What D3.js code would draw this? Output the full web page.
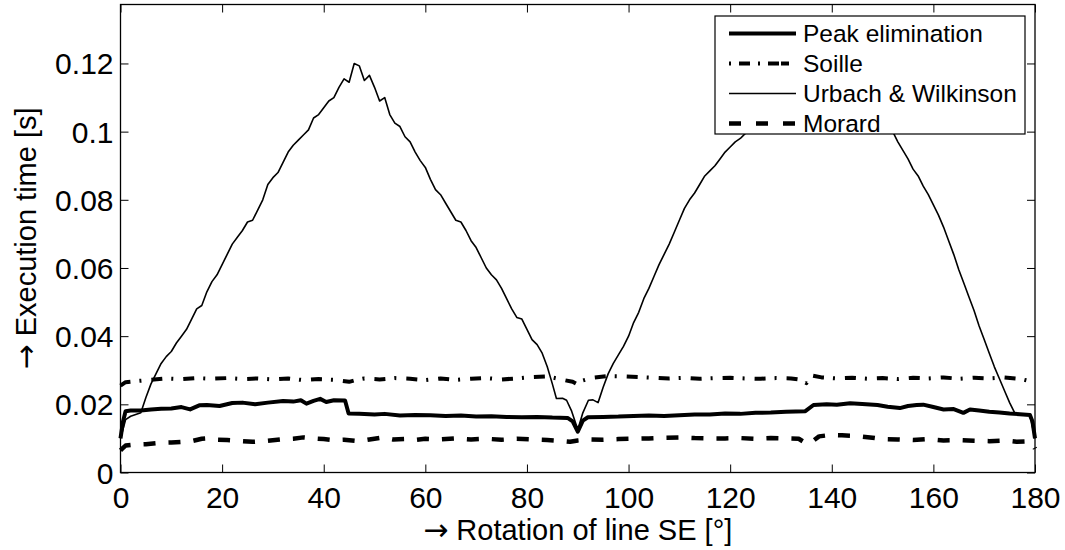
<!DOCTYPE html>
<html><head><meta charset="utf-8">
<script src="https://cdn.jsdelivr.net/npm/d3@7/dist/d3.min.js"></script>
<style>
body{margin:0;background:#fff;}
text{font-family:"Liberation Sans",Arial,Helvetica,sans-serif;fill:#000;}
</style></head>
<body><svg id="c" width="1065" height="550"></svg>
<script>
// ---- data ----
const seriesNames = ["Peak elimination","Soille","Urbach & Wilkinson","Morard"];
const xTicks = [0,20,40,60,80,100,120,140,160,180];
const yTicks = [0,0.02,0.04,0.06,0.08,0.1,0.12];
const yTickLabels = ["0","0.02","0.04","0.06","0.08","0.1","0.12"];
const xTitle = "Rotation of line SE [\u00b0]";
const yTitle = "Execution time [s]";

const peakElim = [[0,0.0100],[0.5,0.0150],[1,0.0180],[2,0.0182],[4,0.0182],[6,0.0185],[8,0.0187],[10,0.0188],[12,0.0192],[13.7,0.0185],[15.5,0.0197],[17,0.0198],[19.5,0.0195],[22,0.0204],[24,0.0205],[26.5,0.0200],[29,0.0205],[32,0.0210],[34,0.0208],[35.5,0.0212],[36.6,0.0202],[38,0.0210],[39.3,0.0216],[40.5,0.0207],[42,0.0212],[44.2,0.0211],[44.9,0.0173],[47,0.0172],[50,0.0170],[52,0.0172],[55,0.0167],[58,0.0169],[61,0.0168],[64,0.0166],[67,0.0167],[70,0.0164],[73,0.0165],[76,0.0163],[79,0.0162],[82,0.0163],[85,0.0161],[88,0.0160],[89,0.0150],[90,0.0120],[91,0.0152],[92,0.0162],[95,0.0163],[98,0.0164],[101,0.0166],[104,0.0167],[107,0.0166],[110,0.0168],[113,0.0170],[116,0.0170],[119,0.0173],[122,0.0172],[125,0.0175],[128,0.0176],[131,0.0178],[134.8,0.0180],[136.4,0.0198],[139,0.0200],[141,0.0199],[143.6,0.0203],[146,0.0201],[149,0.0198],[151,0.0193],[153.4,0.0189],[155,0.0195],[156.7,0.0198],[158,0.0199],[160,0.0192],[162,0.0185],[164,0.0186],[165.9,0.0175],[167.2,0.0185],[169,0.0182],[171,0.0178],[173,0.0176],[175,0.0173],[177,0.0171],[179,0.0169],[179.5,0.0150],[180,0.0100]];

const soille = [[0,0.0255],[1,0.0265],[3,0.0268],[6,0.0272],[9,0.0276],[12,0.0274],[15,0.0277],[18,0.0275],[21,0.0277],[24,0.0274],[27,0.0276],[30,0.0273],[33,0.0276],[36,0.0271],[39,0.0274],[42,0.0272],[45,0.0266],[46,0.0270],[48,0.0276],[51,0.0273],[54,0.0277],[57,0.0275],[60,0.0271],[63,0.0276],[66,0.0272],[69,0.0275],[72,0.0277],[75,0.0273],[78,0.0276],[81,0.0280],[84,0.0282],[87,0.0272],[89,0.0266],[90,0.0258],[91,0.0270],[93,0.0278],[96,0.0283],[99,0.0282],[102,0.0280],[105,0.0278],[108,0.0276],[111,0.0278],[114,0.0275],[117,0.0277],[120,0.0278],[123,0.0276],[126,0.0275],[129,0.0277],[132,0.0276],[134,0.0272],[135,0.0262],[136,0.0285],[138,0.0279],[141,0.0276],[144,0.0278],[147,0.0275],[150,0.0277],[153,0.0274],[156,0.0278],[159,0.0276],[162,0.0279],[165,0.0275],[168,0.0278],[171,0.0276],[174,0.0279],[177,0.0275],[179,0.0268],[180,0.0258]];

const urbach = [[0,0.0100],[1,0.0155],[2,0.0165],[3,0.0170],[4,0.0175],[5,0.0220],[6,0.0260],[7,0.0290],[8,0.0320],[9,0.0340],[10,0.0355],[11,0.0380],[12,0.0400],[13,0.0420],[14,0.0450],[15,0.0480],[16,0.0490],[17,0.0530],[18,0.0560],[19,0.0580],[20,0.0610],[21,0.0640],[22,0.0670],[23,0.0690],[24,0.0710],[25,0.0735],[26,0.0740],[27,0.0770],[28,0.0800],[29,0.0845],[30,0.0865],[31,0.0880],[32,0.0910],[33,0.0940],[34,0.0960],[35,0.0975],[36,0.0990],[37,0.1005],[38,0.1040],[39,0.1050],[40,0.1070],[41,0.1090],[42,0.1100],[43,0.1130],[44,0.1155],[45,0.1145],[46,0.1200],[47,0.1193],[48,0.1150],[49,0.1165],[50,0.1130],[51,0.1090],[52,0.1100],[53,0.1050],[54,0.1025],[55,0.1015],[56,0.0985],[57,0.0970],[58,0.0940],[59,0.0915],[60,0.0895],[61,0.0860],[62,0.0830],[63,0.0815],[64,0.0790],[65,0.0765],[66,0.0740],[67,0.0735],[68,0.0710],[69,0.0680],[70,0.0660],[71,0.0630],[72,0.0600],[73,0.0580],[74,0.0565],[75,0.0540],[76,0.0510],[77,0.0480],[78,0.0455],[79,0.0450],[80,0.0420],[81,0.0390],[82,0.0375],[83,0.0350],[84,0.0310],[85,0.0260],[85.8,0.0217],[87,0.0218],[87.8,0.0212],[88.8,0.0180],[89.8,0.0135],[90.2,0.0135],[91,0.0175],[92.1,0.0212],[93,0.0213],[94,0.0205],[95,0.0250],[96,0.0290],[97,0.0320],[98,0.0345],[99,0.0370],[100,0.0400],[101,0.0440],[102,0.0470],[103,0.0510],[104,0.0540],[105,0.0575],[106,0.0610],[107,0.0640],[108,0.0670],[109,0.0705],[110,0.0740],[111,0.0775],[112,0.0800],[113,0.0820],[114,0.0845],[115,0.0870],[116,0.0885],[117,0.0900],[118,0.0920],[119,0.0940],[120,0.0955],[121,0.0970],[122,0.0980],[123,0.0995],[124,0.1010],[125,0.1025],[126,0.1040],[127,0.1050],[128,0.1065],[129,0.1080],[130,0.1095],[131,0.1105],[132,0.1120],[133,0.1135],[134,0.1145],[135,0.1160],[136,0.1175],[137,0.1185],[138,0.1180],[139,0.1195],[140,0.1200],[141,0.1190],[142,0.1175],[143,0.1160],[144,0.1145],[145,0.1130],[146,0.1110],[147,0.1090],[148,0.1070],[149,0.1055],[150,0.1035],[151,0.1015],[152,0.1000],[153,0.0970],[154,0.0945],[155,0.0920],[156,0.0890],[157,0.0870],[158,0.0840],[159,0.0815],[160,0.0785],[161,0.0755],[162,0.0720],[163,0.0680],[164,0.0640],[165,0.0595],[166,0.0555],[167,0.0515],[168,0.0475],[169,0.0430],[170,0.0390],[171,0.0350],[172,0.0310],[173,0.0275],[174,0.0240],[175,0.0205],[176,0.0175],[177,0.0172],[178,0.0170],[179,0.0168],[180,0.0100]];

const morard = [[0,0.0065],[0.5,0.0072],[1,0.0079],[3,0.0082],[5,0.0083],[7.8,0.0087],[10,0.0088],[12,0.0090],[14,0.0092],[16,0.0099],[17,0.0100],[19,0.0096],[21,0.0095],[24,0.0092],[26,0.0090],[29,0.0093],[31.5,0.0097],[34,0.0099],[36,0.0103],[38,0.0100],[40,0.0098],[42,0.0095],[44,0.0096],[47,0.0092],[49,0.0097],[51.7,0.0103],[53.7,0.0097],[56,0.0098],[57.6,0.0095],[60,0.0099],[63,0.0097],[66,0.0100],[69,0.0097],[72,0.0099],[75,0.0096],[78,0.0099],[81,0.0097],[84,0.0095],[87,0.0092],[88.5,0.0090],[90,0.0094],[92,0.0097],[95,0.0096],[98,0.0098],[101,0.0099],[104,0.0100],[107,0.0102],[110,0.0103],[113,0.0101],[116,0.0100],[119,0.0100],[122,0.0101],[125,0.0099],[128,0.0101],[131,0.0100],[133.5,0.0099],[135,0.0085],[136.5,0.0095],[137.5,0.0106],[139.6,0.0110],[142,0.0109],[145,0.0107],[148,0.0102],[150,0.0098],[153,0.0097],[156,0.0095],[159,0.0098],[162,0.0094],[165,0.0095],[168,0.0093],[171,0.0092],[174,0.0094],[176.4,0.0090],[178,0.0091],[179.5,0.0085],[180,0.0070]];

// ---- layout ----
const L = 120.5, R = 1035, T = 4.5, B = 472.5;
const svg = d3.select("#c");
const x = d3.scaleLinear().domain([0,180]).range([L,R]);
const y = d3.scaleLinear().domain([0,0.1373]).range([B,T]);

const styles = [
  {w:4, dash:null},
  {w:4, dash:"11,9,2,10"},
  {w:1.6, dash:null},
  {w:4.5, dash:"12,13"}
];
const allSeries = [peakElim, soille, urbach, morard];

const line = d3.line().x(d=>x(d[0])).y(d=>y(d[1]));
const order = [2,1,3,0];
order.forEach(i=>{
  svg.append("path").datum(allSeries[i])
    .attr("d", line).attr("fill","none").attr("stroke","#000")
    .attr("stroke-width", styles[i].w)
    .attr("stroke-linejoin","round")
    .attr("stroke-dasharray", styles[i].dash);
});

// axes (ticks inside, labels outside)
const tl = 8;
const xAxisB = d3.axisBottom(x).tickValues(xTicks).tickSizeInner(-tl).tickSizeOuter(0).tickPadding(14);
const gxb = svg.append("g").attr("transform",`translate(0,${B})`).call(xAxisB);
const xAxisT = d3.axisTop(x).tickValues(xTicks).tickSizeInner(-tl).tickSizeOuter(0).tickFormat("");
const gxt = svg.append("g").attr("transform",`translate(0,${T})`).call(xAxisT);
const yAxisL = d3.axisLeft(y).tickValues(yTicks).tickSizeInner(-tl).tickSizeOuter(0).tickPadding(7)
  .tickFormat((d,i)=>yTickLabels[i]);
const gyl = svg.append("g").attr("transform",`translate(${L},0)`).call(yAxisL);
const yAxisR = d3.axisRight(y).tickValues(yTicks).tickSizeInner(-tl).tickSizeOuter(0).tickFormat("");
const gyr = svg.append("g").attr("transform",`translate(${R},0)`).call(yAxisR);
[gxb,gxt,gyl,gyr].forEach(g=>{
  g.select(".domain").remove();
  g.selectAll("line").attr("stroke","#000").attr("stroke-width",1);
  g.selectAll("text").style("font-family",'"Liberation Sans",Arial,sans-serif').style("font-size","30px").attr("fill","#000");
});
gyl.selectAll("text").attr("dy","0.35em");
svg.append("rect").attr("x",L).attr("y",T).attr("width",R-L).attr("height",B-T)
  .attr("fill","none").attr("stroke","#000").attr("stroke-width",1.3);

// axis titles
function title(sel, str){
  sel.append("tspan").style("font-family",'"DejaVu Sans",sans-serif').style("font-size","30px").text("\u2192");
  sel.append("tspan").text(" " + str);
}
const xt = svg.append("text").attr("x",(L+R)/2).attr("y",540).attr("text-anchor","middle")
  .style("font-size","29px");
title(xt, xTitle);
const yt = svg.append("text").attr("transform",`translate(36,${(T+B)/2}) rotate(-90)`).attr("text-anchor","middle")
  .style("font-size","29px");
title(yt, yTitle);

// legend
const lg = svg.append("g");
lg.append("rect").attr("x",715).attr("y",16).attr("width",310).attr("height",118)
  .attr("fill","#fff").attr("stroke","#000").attr("stroke-width",1.2);
seriesNames.forEach((n,i)=>{
  const yy = 33.5 + i*30;
  lg.append("line").attr("x1",729).attr("x2",796).attr("y1",yy).attr("y2",yy)
    .attr("stroke","#000").attr("stroke-width",styles[i].w)
    .attr("stroke-dasharray", i===1 ? "2,8,11,8,2,8,11" : (i===3 ? "12,15" : null));
  lg.append("text").attr("x",803).attr("y",yy).attr("dy","0.35em")
    .style("font-size","24.5px").text(n);
});
</script></body></html>
